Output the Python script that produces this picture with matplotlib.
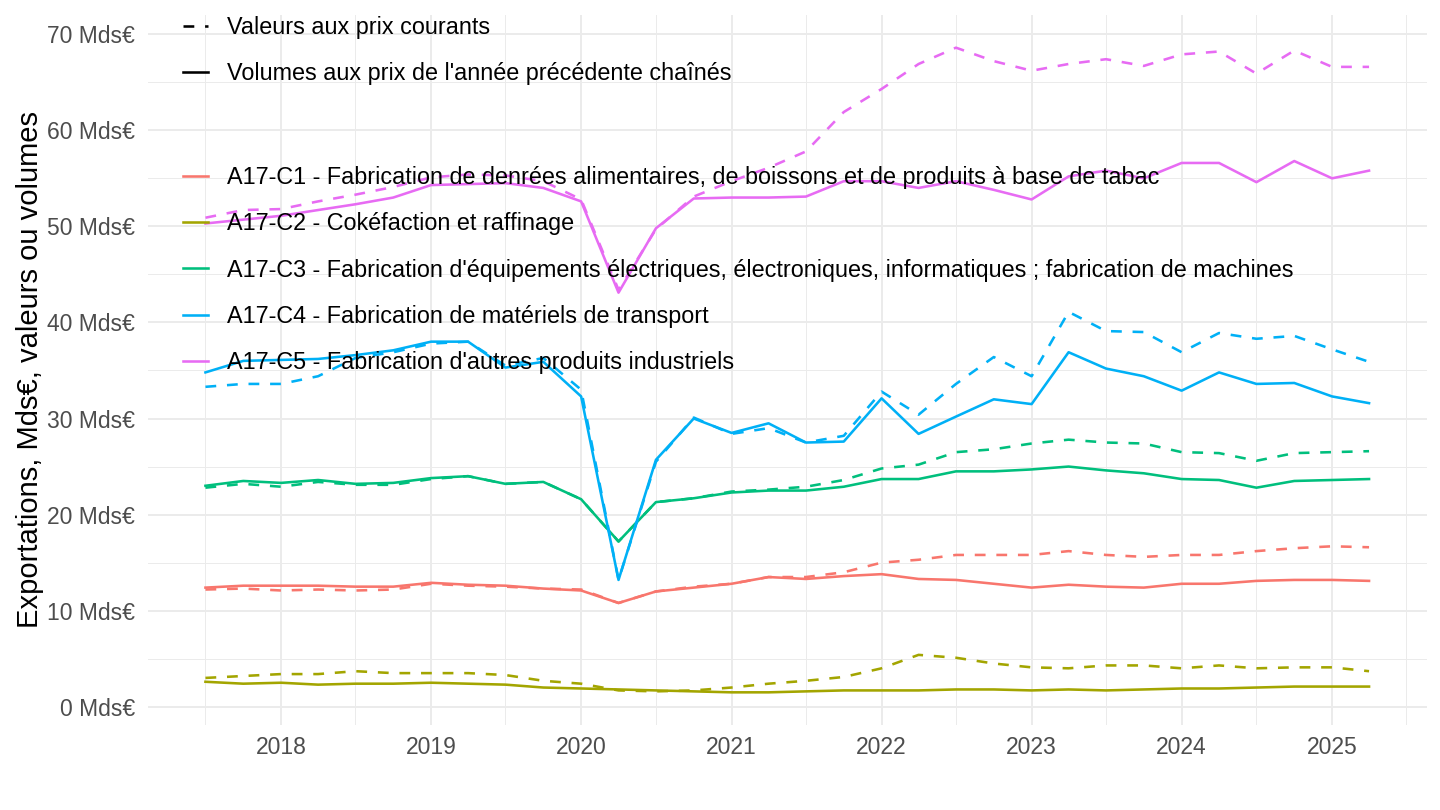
import pandas as pd
import matplotlib.pyplot as plt
import matplotlib.dates as mdates
from matplotlib.lines import Line2D
from matplotlib.ticker import MultipleLocator, FuncFormatter

plt.rcParams['font.family'] = ['Liberation Sans', 'DejaVu Sans']

# quarterly dates, 2017Q3 -> 2025Q2
dates = pd.date_range('2017-07-01', periods=32, freq='QS')

labels = [
    "A17-C1 - Fabrication de denrées alimentaires, de boissons et de produits à base de tabac",
    "A17-C2 - Cokéfaction et raffinage",
    "A17-C3 - Fabrication d'équipements électriques, électroniques, informatiques ; fabrication de machines",
    "A17-C4 - Fabrication de matériels de transport",
    "A17-C5 - Fabrication d'autres produits industriels",
]
colors = ['#F8766D', '#A3A500', '#00BF7D', '#00B0F6', '#E76BF3']

# valeurs aux prix courants (dashed)
c1_val = [12.2, 12.3, 12.1, 12.2, 12.1, 12.2, 12.8, 12.6, 12.5, 12.3, 12.2, 10.8, 12.0, 12.5, 12.8, 13.5,
          13.5, 14.0, 15.0, 15.3, 15.8, 15.8, 15.8, 16.2, 15.8, 15.6, 15.8, 15.8, 16.2, 16.5, 16.7, 16.6]
c2_val = [3.0, 3.2, 3.4, 3.4, 3.7, 3.5, 3.5, 3.5, 3.3, 2.7, 2.4, 1.7, 1.6, 1.7, 2.0, 2.4,
          2.7, 3.1, 4.0, 5.4, 5.1, 4.5, 4.1, 4.0, 4.3, 4.3, 4.0, 4.3, 4.0, 4.1, 4.1, 3.7]
c3_val = [22.8, 23.2, 22.9, 23.4, 23.1, 23.1, 23.7, 24.0, 23.2, 23.4, 21.6, 17.2, 21.3, 21.7, 22.4, 22.6,
          22.9, 23.6, 24.8, 25.2, 26.5, 26.8, 27.4, 27.8, 27.5, 27.4, 26.5, 26.4, 25.6, 26.4, 26.5, 26.6]
c4_val = [33.3, 33.6, 33.6, 34.4, 36.3, 36.9, 37.8, 38.0, 35.5, 36.3, 33.0, 13.2, 25.5, 30.1, 28.4, 29.0,
          27.5, 28.2, 32.8, 30.4, 33.6, 36.4, 34.4, 41.1, 39.1, 39.0, 36.9, 38.9, 38.3, 38.6, 37.2, 35.9]
c5_val = [50.9, 51.7, 51.8, 52.6, 53.3, 54.1, 55.1, 55.4, 55.3, 54.7, 52.8, 43.4, 49.7, 53.1, 54.7, 56.1,
          57.8, 61.9, 64.3, 66.9, 68.6, 67.2, 66.2, 66.9, 67.4, 66.7, 67.9, 68.2, 65.9, 68.3, 66.6, 66.6]

# volumes aux prix de l'année précédente chaînés (solid)
c1_vol = [12.4, 12.6, 12.6, 12.6, 12.5, 12.5, 12.9, 12.7, 12.6, 12.3, 12.1, 10.8, 12.0, 12.4, 12.8, 13.5,
          13.3, 13.6, 13.8, 13.3, 13.2, 12.8, 12.4, 12.7, 12.5, 12.4, 12.8, 12.8, 13.1, 13.2, 13.2, 13.1]
c2_vol = [2.6, 2.4, 2.5, 2.3, 2.4, 2.4, 2.5, 2.4, 2.3, 2.0, 1.9, 1.8, 1.7, 1.6, 1.5, 1.5,
          1.6, 1.7, 1.7, 1.7, 1.8, 1.8, 1.7, 1.8, 1.7, 1.8, 1.9, 1.9, 2.0, 2.1, 2.1, 2.1]
c3_vol = [23.0, 23.5, 23.3, 23.6, 23.2, 23.3, 23.8, 24.0, 23.2, 23.4, 21.6, 17.2, 21.3, 21.7, 22.3, 22.5,
          22.5, 22.9, 23.7, 23.7, 24.5, 24.5, 24.7, 25.0, 24.6, 24.3, 23.7, 23.6, 22.8, 23.5, 23.6, 23.7]
c4_vol = [34.8, 36.0, 36.1, 36.2, 36.6, 37.1, 38.0, 38.0, 35.3, 35.9, 32.3, 13.2, 25.7, 30.0, 28.5, 29.5,
          27.5, 27.6, 32.1, 28.4, 30.2, 32.0, 31.5, 36.9, 35.2, 34.4, 32.9, 34.8, 33.6, 33.7, 32.3, 31.6]
c5_vol = [50.3, 50.7, 51.1, 51.7, 52.3, 53.0, 54.3, 54.4, 54.5, 54.0, 52.6, 43.1, 49.8, 52.9, 53.0, 53.0,
          53.1, 54.7, 54.7, 54.0, 54.7, 53.8, 52.8, 55.2, 55.8, 55.0, 56.6, 56.6, 54.6, 56.8, 55.0, 55.8]

valeurs = [c1_val, c2_val, c3_val, c4_val, c5_val]
volumes = [c1_vol, c2_vol, c3_vol, c4_vol, c5_vol]

fig = plt.figure(figsize=(14.4, 8.1), dpi=100)
ax = fig.add_axes([147.5 / 1440, 1 - 725 / 810, (1427 - 147.5) / 1440, (725 - 15) / 810])

lw = 1.85
dash = (4.2, 4.2)
for col, val, vol in zip(colors, valeurs, volumes):
    ax.plot(dates, val, color=col, lw=lw, dashes=dash)
    ax.plot(dates, vol, color=col, lw=lw)

ax.set_xlim(pd.Timestamp('2017-02-10'), pd.Timestamp('2025-08-20'))
ax.set_ylim(-1.9, 72)

ax.xaxis.set_major_locator(mdates.YearLocator())
ax.xaxis.set_major_formatter(mdates.DateFormatter('%Y'))
ax.xaxis.set_minor_locator(mdates.MonthLocator(bymonth=7))
ax.yaxis.set_major_locator(MultipleLocator(10))
ax.yaxis.set_minor_locator(MultipleLocator(5))
ax.yaxis.set_major_formatter(FuncFormatter(lambda v, p: f"{int(v)} Mds€"))

ax.grid(which='major', color='#EBEBEB', lw=1.4)
ax.grid(which='minor', color='#EBEBEB', lw=0.7)
ax.set_axisbelow(True)
for s in ax.spines.values():
    s.set_visible(False)
ax.tick_params(which='both', length=0)
ax.tick_params(axis='both', labelsize=16.5, labelcolor='#4D4D4D')
ax.tick_params(axis='y', pad=9)
ax.tick_params(axis='x', pad=8)
ax.set_ylabel('Exportations, Mds€, valeurs ou volumes', fontsize=21, labelpad=2)

leg_kw = dict(loc='upper left', bbox_transform=fig.transFigure, frameon=False, fontsize=16.8,
              handlelength=1.07, handletextpad=0.82, labelspacing=1.0, borderpad=0, borderaxespad=0)

lt_handles = [Line2D([], [], color='black', lw=lw, dashes=dash),
              Line2D([], [], color='black', lw=lw)]
leg1 = ax.legend(lt_handles, ['Valeurs aux prix courants', "Volumes aux prix de l'année précédente chaînés"],
                 bbox_to_anchor=(183 / 1440, 1 - 16 / 810), **leg_kw)
ax.add_artist(leg1)

col_handles = [Line2D([], [], color=c, lw=lw) for c in colors]
ax.legend(col_handles, labels, bbox_to_anchor=(183 / 1440, 1 - 166 / 810), **leg_kw)

fig.savefig('out.png', dpi=100)
